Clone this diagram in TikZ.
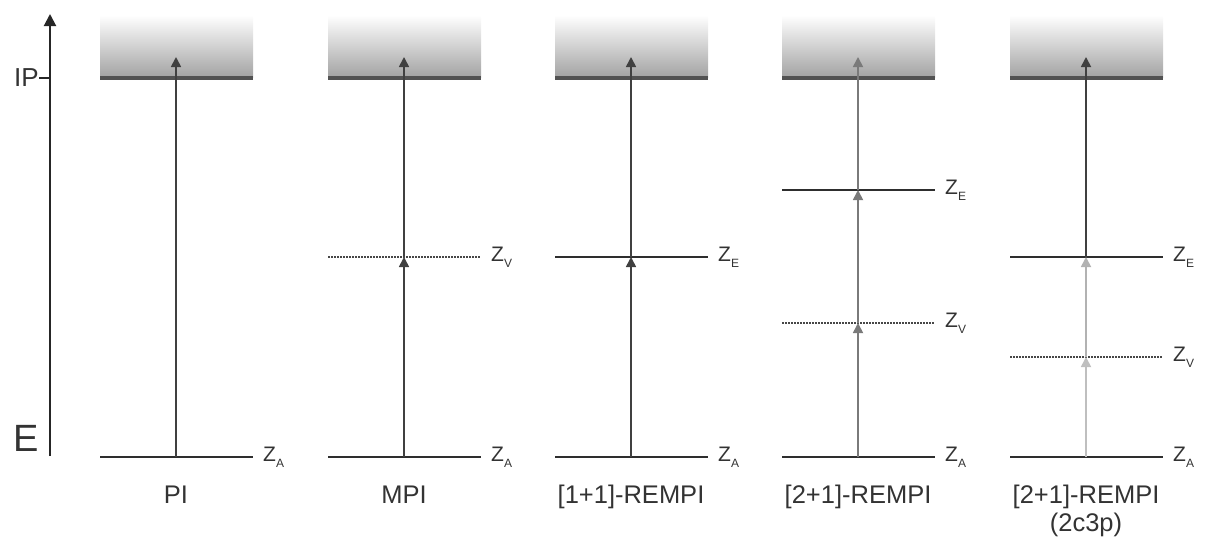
\documentclass[tikz,border=0pt]{standalone}
\usepackage{fontspec}
\setmainfont{Liberation Sans}
\usetikzlibrary{arrows.meta}
\newcommand{\lev}[1]{Z\raisebox{-0.55ex}{\fontsize{12}{12}\selectfont #1}}
\begin{document}
\begin{tikzpicture}[x=1pt,y=-1pt,
  ionline/.style={line width=3.5pt, draw=black!68},
  level/.style={line width=2pt, draw=black!82},
  virt/.style={line width=2pt, draw=black!72, dash pattern=on 1.5pt off 1.5pt},
  pump/.style={line width=1.7pt, -{Triangle[length=10pt,width=10pt]}},
  lbl/.style={font=\fontsize{21}{21}\selectfont, text=black!80, anchor=west, inner sep=0pt},
  capt/.style={font=\fontsize{25.5}{28}\selectfont, text=black!80, align=center, inner sep=0pt}
]
\useasboundingbox (0,0) rectangle (1210,539);

% energy axis
\coordinate (ax0) at (50,456);
\coordinate (ax1) at (50,14);
\draw[line width=2pt, draw=black!85, -{Triangle[length=12pt,width=12pt]}] (ax0) -- (ax1);
\coordinate (ipt) at (39,78);
\draw[line width=1.5pt, draw=black!85] (ipt) -- (ipt -| ax0);
\node[font=\fontsize{26}{26}\selectfont, text=black!80, anchor=east, inner sep=0pt] (ip) at (ipt) {IP};
\node[font=\fontsize{38}{38}\selectfont, text=black!80, inner sep=0pt] (E) at (26,438) {E};

% ionisation continuum and ground state for each scheme
\foreach \i/\cx in {1/176,2/404,3/631,4/858,5/1086} {
  \shade[top color=white, bottom color=black!36] (\cx-76,15) rectangle (\cx+77,77);
  \coordinate (iL\i) at (\cx-76,78);
  \coordinate (iR\i) at (\cx+77,78);
  \draw[ionline] (iL\i) -- (iR\i);
  \coordinate (top\i) at (\cx,57);
  \coordinate (gL\i) at (\cx-76,457);
  \coordinate (gR\i) at (\cx+77,457);
  \coordinate (g\i) at (\cx,457);
  \draw[level] (gL\i) -- (gR\i);
  \node[lbl] (za\i) at ([xshift=10pt]gR\i) {\lev{A}};
}

% intermediate levels
\coordinate (vL2) at (328,257); \coordinate (vR2) at (481,257); \coordinate (v2) at (404,257);
\draw[virt] (vL2) -- (vR2);
\node[lbl] (zv2) at ([xshift=10pt]vR2) {\lev{V}};

\coordinate (eL3) at (555,257); \coordinate (eR3) at (708,257); \coordinate (e3) at (631,257);
\draw[level] (eL3) -- (eR3);
\node[lbl] (ze3) at ([xshift=10pt]eR3) {\lev{E}};

\coordinate (vL4) at (782,323); \coordinate (vR4) at (935,323); \coordinate (v4) at (858,323);
\draw[virt] (vL4) -- (vR4);
\node[lbl] (zv4) at ([xshift=10pt]vR4) {\lev{V}};
\coordinate (eL4) at (782,190); \coordinate (eR4) at (935,190); \coordinate (e4) at (858,190);
\draw[level] (eL4) -- (eR4);
\node[lbl] (ze4) at ([xshift=10pt]eR4) {\lev{E}};

\coordinate (vL5) at (1010,357); \coordinate (vR5) at (1163,357); \coordinate (v5) at (1086,357);
\draw[virt] (vL5) -- (vR5);
\node[lbl] (zv5) at ([xshift=10pt]vR5) {\lev{V}};
\coordinate (eL5) at (1010,257); \coordinate (eR5) at (1163,257); \coordinate (e5) at (1086,257);
\draw[level] (eL5) -- (eR5);
\node[lbl] (ze5) at ([xshift=10pt]eR5) {\lev{E}};

% photon steps
\draw[pump, draw=black!75, fill=black!75] (g1) -- (top1);
\draw[pump, draw=black!75, fill=black!75] (g2) -- (v2);
\draw[pump, draw=black!75, fill=black!75] (v2) -- (top2);
\draw[pump, draw=black!75, fill=black!75] (g3) -- (e3);
\draw[pump, draw=black!75, fill=black!75] (e3) -- (top3);
\draw[pump, draw=black!52, fill=black!52] (g4) -- (v4);
\draw[pump, draw=black!52, fill=black!52] (v4) -- (e4);
\draw[pump, draw=black!52, fill=black!52] (e4) -- (top4);
\draw[pump, draw=black!25, fill=black!25] (g5) -- (v5);
\draw[pump, draw=black!30, fill=black!30] (v5) -- (e5);
\draw[pump, draw=black!75, fill=black!75] (e5) -- (top5);

% scheme names
\node[capt, anchor=base] (n1) at (176,503) {PI};
\node[capt, anchor=base] (n2) at (404,503) {MPI};
\node[capt, anchor=base] (n3) at (631,503) {[1+1]-REMPI};
\node[capt, anchor=base] (n4) at (858,503) {[2+1]-REMPI};
\node[capt, anchor=north] (n5) at (1086,484.5) {[2+1]-REMPI\\(2c3p)};
\end{tikzpicture}
\end{document}
